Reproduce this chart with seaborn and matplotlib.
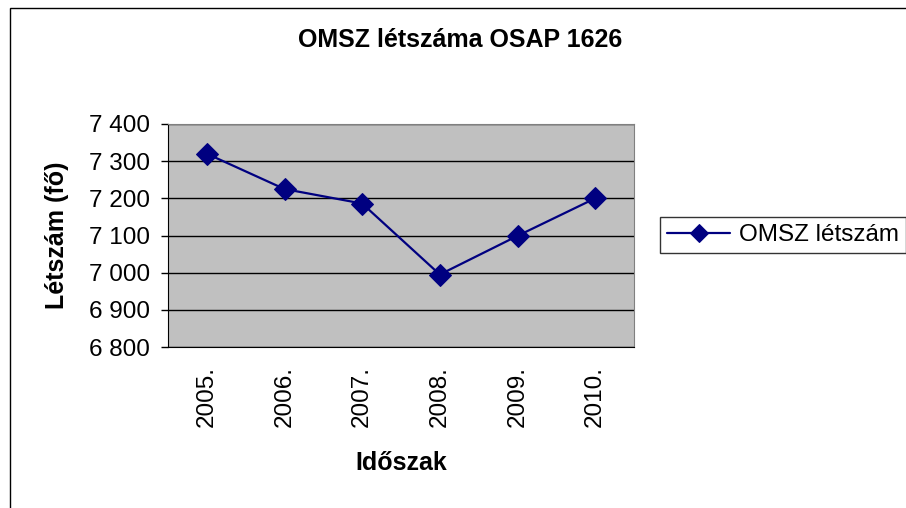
import numpy as np
import pandas as pd
import matplotlib.pyplot as plt
import matplotlib.ticker as mticker
from matplotlib.patches import Rectangle
import seaborn as sns

# data
years = ["2005.", "2006.", "2007.", "2008.", "2009.", "2010."]
letszam = [7320, 7225, 7186, 6995, 7099, 7200]
series_name = "OMSZ létszám"

df = pd.DataFrame({"Időszak": years, "Létszám": letszam})

sns.set_style("white")
plt.rcParams["font.family"] = ["Liberation Sans", "DejaVu Sans"]
plt.rcParams.update({"text.color": "black", "axes.labelcolor": "black",
                     "xtick.color": "black", "ytick.color": "black"})

fig = plt.figure(figsize=(9.06, 5.08), dpi=100)
ax = fig.add_axes([168 / 906, 1 - 347 / 508, (634 - 168) / 906, (347 - 124) / 508])
ax.set_facecolor("#C0C0C0")

sns.lineplot(data=df, x="Időszak", y="Létszám", ax=ax, color="#000080",
             marker="D", markersize=11, markeredgecolor="#000080",
             linewidth=1.6, label=series_name, sort=False)

ax.set_xlim(-0.5, len(years) - 0.5)
ax.set_ylim(6800, 7400)
ax.set_yticks(np.arange(6800, 7401, 100))
ax.yaxis.set_major_formatter(mticker.FuncFormatter(lambda v, p: f"{int(v):,}".replace(",", " ")))
ax.grid(axis="y", color="black", linewidth=1)
ax.set_axisbelow(True)

ax.set_xticks(range(len(years)))
ax.set_xticklabels(years, rotation=90)
ax.set_xticks(np.arange(-0.5, len(years)), minor=True)
ax.tick_params(axis="x", which="major", length=0, labelsize=17.5, pad=14)
ax.tick_params(axis="x", which="minor", length=5, width=1, color="black", direction="out")
ax.tick_params(axis="y", length=5, width=1, color="black", direction="out",
               labelsize=17.5, left=True, pad=8)

for side in ["left", "bottom"]:
    ax.spines[side].set_color("black")
for side in ["top", "right"]:
    ax.spines[side].set_color("#808080")

ax.set_xlabel("Időszak", fontsize=18, fontweight="bold")
ax.set_ylabel("Létszám (fő)", fontsize=18, fontweight="bold")
ax.xaxis.set_label_coords(0.5, -(463 - 347) / 223, transform=ax.transAxes)
ax.yaxis.set_label_coords(-(168 - 57) / 466, 0.5, transform=ax.transAxes)
ax.xaxis.label.set_va("center")
ax.yaxis.label.set_va("center")

fig.text(460 / 906, 1 - 40 / 508, "OMSZ létszáma OSAP 1626", ha="center", va="center",
         fontsize=18, fontweight="bold")

ax.get_legend().remove()
handles, labels = ax.get_legend_handles_labels()
leg = fig.legend(handles, labels, loc="center left", bbox_to_anchor=(660 / 906, 1 - 235 / 508),
                 frameon=True, fancybox=False, fontsize=17.5, handlelength=2.6,
                 borderpad=0.3, borderaxespad=0, handletextpad=0.35, markerscale=0.8)
leg.get_frame().set_edgecolor("black")
leg.get_frame().set_linewidth(1)

# outer chart frame
fig.patches.append(Rectangle((10 / 906, -0.01), 1.0, 1 - 8 / 508 + 0.01, transform=fig.transFigure,
                             fill=False, edgecolor="black", linewidth=1))

fig.savefig("out.png", dpi=100)
